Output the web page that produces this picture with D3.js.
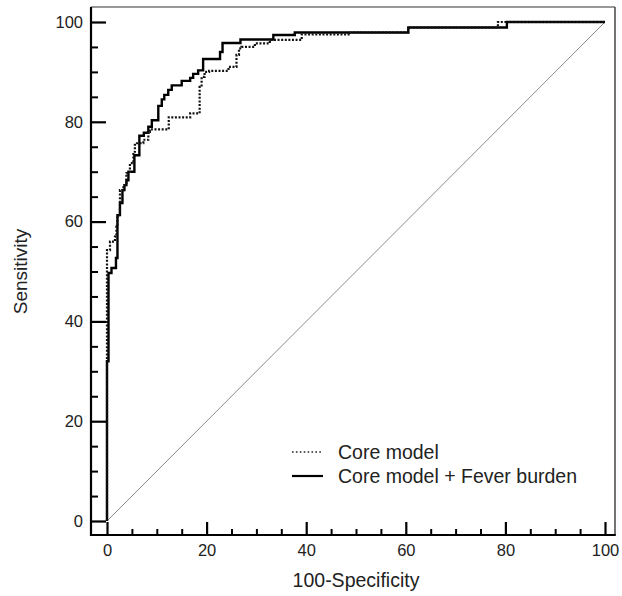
<!DOCTYPE html>
<html>
<head>
<meta charset="utf-8">
<script src="https://cdn.jsdelivr.net/npm/d3@7"></script>
<style>
  body { margin: 0; background: #fff; }
  text { font-family: "Liberation Sans", Arial, sans-serif; fill: #222; }
</style>
</head>
<body>
<div class="chart"></div>
<script>
// ROC points: at each fpr the curve rises to the given sensitivity
var fprCore  = [0, 0, 0.6, 1.6, 1.9, 2.1, 2.6, 3.3, 3.9, 4.6, 5.3, 5.6, 7.3, 8.3, 8.6, 12.4, 16.7, 18.6, 19.0, 19.6, 20.5, 24.4, 26.0, 26.5, 27.0, 29.7, 32.7, 39.1, 48.5, 60.5, 78.5, 100];
var sensCore = [0, 54.3, 56, 57, 59, 61.3, 66.3, 67.3, 69.7, 71.7, 74, 75.7, 76.4, 78, 78.5, 80.9, 81.7, 87, 89, 90, 90.2, 91, 93.4, 94.7, 95, 95.7, 96.4, 97.5, 97.9, 98.9, 100, 100];

var fprFever  = [0, 0, 0.3, 0.9, 1.8, 2.1, 2.6, 3.1, 3.5, 3.9, 4.3, 5.5, 6.5, 7.4, 8.3, 9.0, 10.3, 11.0, 11.5, 12.3, 13.0, 15.0, 16.7, 17.3, 18.3, 19.3, 22.7, 23.2, 26.8, 33.4, 37.7, 60.5, 80.3, 100];
var sensFever = [0, 32, 49.7, 50.7, 52.7, 61.3, 63.7, 66.3, 67.3, 68.3, 70, 73.3, 77.2, 77.8, 79, 80.3, 83.2, 84.5, 85.4, 86.4, 87.3, 88.2, 88.8, 89.6, 90.3, 92.6, 94, 95.8, 96.5, 97.4, 97.9, 98.9, 100, 100];

var majorTicks = [0, 20, 40, 60, 80, 100];
var minorTicks = [5, 10, 15, 25, 30, 35, 45, 50, 55, 65, 70, 75, 85, 90, 95];

var seriesNames = ["Core model", "Core model + Fever burden"];

var svgWidth = 622;
var svgHeight = 596;

var frame = { left: 91, right: 615, top: 7, bottom: 535 };

var svg = d3.select(".chart")
  .append("svg")
  .attr("width", svgWidth)
  .attr("height", svgHeight);

var x = d3.scaleLinear().domain([0, 100]).range([107, 605]);
var y = d3.scaleLinear().domain([0, 100]).range([521, 22]);

// minor ticks
svg.append("g")
  .attr("transform", `translate(${frame.left},0)`)
  .call(d3.axisLeft(y).tickValues(minorTicks).tickSize(-7).tickFormat(""))
  .call(g => g.select(".domain").remove())
  .call(g => g.selectAll("line").attr("stroke", "#000").attr("stroke-width", 2));

svg.append("g")
  .attr("transform", `translate(0,${frame.bottom})`)
  .call(d3.axisBottom(x).tickValues(minorTicks).tickSize(-6).tickFormat(""))
  .call(g => g.select(".domain").remove())
  .call(g => g.selectAll("line").attr("stroke", "#000").attr("stroke-width", 2));

// major ticks + labels
var yAxis = svg.append("g")
  .attr("transform", `translate(${frame.left},0)`)
  .call(d3.axisLeft(y).tickValues(majorTicks).tickSize(-15).tickPadding(8).tickFormat(d3.format("d")));
yAxis.select(".domain").remove();
yAxis.selectAll("line").attr("stroke", "#000").attr("stroke-width", 2.2);
yAxis.selectAll("text").style("font-size", "16.5px").attr("fill", "#222");

var xAxis = svg.append("g")
  .attr("transform", `translate(0,${frame.bottom})`)
  .call(d3.axisBottom(x).tickValues(majorTicks).tickSize(-13).tickPadding(9).tickFormat(d3.format("d")));
xAxis.select(".domain").remove();
xAxis.selectAll("line").attr("stroke", "#000").attr("stroke-width", 2.2);
xAxis.selectAll("text").style("font-size", "16.5px").attr("fill", "#222");

// frame
svg.append("line").attr("x1", frame.left).attr("x2", frame.right).attr("y1", frame.top).attr("y2", frame.top)
  .attr("stroke", "#333").attr("stroke-width", 1.2);
svg.append("line").attr("x1", frame.right).attr("x2", frame.right).attr("y1", frame.top).attr("y2", frame.bottom)
  .attr("stroke", "#444").attr("stroke-width", 1.5);
svg.append("line").attr("x1", frame.left).attr("x2", frame.left).attr("y1", frame.top).attr("y2", frame.bottom + 1)
  .attr("stroke", "#000").attr("stroke-width", 2.2);
svg.append("line").attr("x1", frame.left).attr("x2", frame.right + 0.75).attr("y1", frame.bottom).attr("y2", frame.bottom)
  .attr("stroke", "#000").attr("stroke-width", 2.2);

// reference diagonal
svg.append("line")
  .attr("x1", x(0)).attr("y1", y(0))
  .attr("x2", x(100)).attr("y2", y(100))
  .attr("stroke", "#8a8a8a")
  .attr("stroke-width", 1);

var line = d3.line()
  .x(d => x(d[0]))
  .y(d => y(d[1]))
  .curve(d3.curveStepAfter);

var coreData = fprCore.map((f, i) => [f, sensCore[i]]);
var feverData = fprFever.map((f, i) => [f, sensFever[i]]);

svg.append("path")
  .datum(feverData)
  .attr("d", line)
  .attr("fill", "none")
  .attr("stroke", "#000")
  .attr("stroke-width", 2.4);

svg.append("path")
  .datum(coreData)
  .attr("d", line)
  .attr("fill", "none")
  .attr("stroke", "#111")
  .attr("stroke-width", 2.2)
  .attr("stroke-dasharray", "2,1.6");

// legend
var legend = svg.append("g").attr("transform", "translate(292,452)");
legend.append("line")
  .attr("x1", 0).attr("x2", 31).attr("y1", 0).attr("y2", 0)
  .attr("stroke", "#222").attr("stroke-width", 1.6).attr("stroke-dasharray", "1.6,2.3");
legend.append("line")
  .attr("x1", 0).attr("x2", 31).attr("y1", 24).attr("y2", 24)
  .attr("stroke", "#000").attr("stroke-width", 2.2);
legend.selectAll("text.leg")
  .data(seriesNames)
  .enter()
  .append("text")
  .attr("class", "leg")
  .attr("x", 46)
  .attr("y", (d, i) => i * 24)
  .attr("dy", "0.35em")
  .style("font-size", "19.5px")
  .text(d => d);

// axis titles
svg.append("text")
  .attr("x", x(50))
  .attr("y", 580)
  .attr("text-anchor", "middle")
  .attr("dy", "0.35em")
  .style("font-size", "19.5px")
  .text("100-Specificity");

svg.append("text")
  .attr("transform", `translate(20,${y(50)}) rotate(-90)`)
  .attr("text-anchor", "middle")
  .attr("dy", "0.35em")
  .style("font-size", "19px")
  .text("Sensitivity");
</script>
</body>
</html>
